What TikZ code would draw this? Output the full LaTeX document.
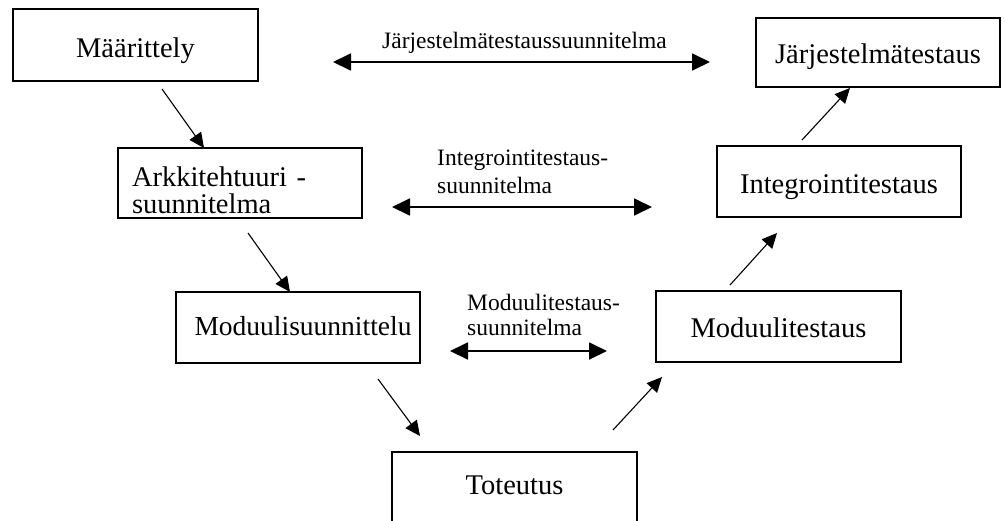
\documentclass[tikz,border=0pt]{standalone}
\usepackage{fontspec}
\setmainfont{Liberation Serif}
\usetikzlibrary{arrows.meta}
\newcommand\BoxFont{\fontsize{28.5pt}{34pt}\selectfont}
\newcommand\LabelFont{\fontsize{23.5pt}{28pt}\selectfont}
\begin{document}
\begin{tikzpicture}[x=1pt,y=-1pt,
  box/.style={draw, line width=1.7pt, inner sep=0pt, minimum width=244pt,
    minimum height=71pt, font=\BoxFont},
  lbl/.style={inner sep=0pt, font=\LabelFont},
  dbl/.style={line width=1.8pt, {Triangle[length=18pt,width=17pt]}-{Triangle[length=18pt,width=17pt]}},
  diag/.style={line width=1.1pt, -{Triangle[length=15pt,width=14pt]}}]

\fill[white] (0,0) rectangle (1005,520);
\useasboundingbox (0,0) rectangle (1005,520);

% left branch: specification and design
\node[box, minimum width=245pt, minimum height=72pt, text height=24pt, text depth=0pt]
  (maar) at (135.5,45) {Määrittely\hspace{8pt}};
\node[box, minimum height=70pt, text width=216pt, align=left, text height=26pt,
  text depth=20pt, font=\fontsize{28.5pt}{27pt}\selectfont]
  (arkk) at (240,183) {Arkkitehtuuri -\\suunnitelma};
\node[box, text height=15pt, text depth=0pt, font=\fontsize{27.5pt}{33pt}\selectfont]
  (modsu) at (298,327.5) {\hspace*{10pt}Moduulisuunnittelu};

% bottom: implementation
\node[box, minimum width=245pt, text height=13pt, text depth=0pt]
  (tot) at (514.5,487.5) {Toteutus\hspace{27pt}};

% right branch: testing
\node[box, minimum width=245pt, text height=21pt, text depth=0pt]
  (modte) at (778.5,326.5) {Moduulitestaus\hspace{17pt}};
\node[box, text height=23pt, text depth=0pt]
  (integ) at (839,181.5) {Integrointitestaus\hspace{29pt}};
\node[box, minimum height=69pt, text height=21pt, text depth=0pt]
  (jarj) at (878,52.5) {Järjestelmätestaus\hspace{14pt}};

% test plans linking the two branches
\coordinate (p1l) at (333,62);
\coordinate (p1r) at (710,62);
\draw[dbl] (p1l) -- (p1r);
\node[lbl, anchor=base] (p1t) at (524.5,48) {Järjestelmätestaussuunnitelma};

\coordinate (p2l) at (392,207);
\coordinate (p2r) at (652,207);
\draw[dbl] (p2l) -- (p2r);
\node[lbl, anchor=base west, text width=200pt, align=left] (p2t) at (437,165)
  {Integrointitestaus-\\suunnitelma};

\coordinate (p3l) at (450,351);
\coordinate (p3r) at (607,351);
\draw[dbl] (p3l) -- (p3r);
\node[lbl, anchor=base west, text width=180pt, align=left,
  font=\fontsize{23.5pt}{25pt}\selectfont] (p3t) at (467,310)
  {Moduulitestaus-\\suunnitelma};

% flow down the left side and up the right side
\coordinate (d1a) at (162,89);  \coordinate (d1b) at (204,148);
\coordinate (d2a) at (248,233); \coordinate (d2b) at (290,292);
\coordinate (d3a) at (378,379); \coordinate (d3b) at (420,436);
\coordinate (d4a) at (613,430); \coordinate (d4b) at (662,377);
\coordinate (d5a) at (730,285); \coordinate (d5b) at (777,233);
\coordinate (d6a) at (802,140); \coordinate (d6b) at (850,88);
\draw[diag] (d1a) -- (d1b);
\draw[diag] (d2a) -- (d2b);
\draw[diag] (d3a) -- (d3b);
\draw[diag] (d4a) -- (d4b);
\draw[diag] (d5a) -- (d5b);
\draw[diag] (d6a) -- (d6b);
\end{tikzpicture}
\end{document}
